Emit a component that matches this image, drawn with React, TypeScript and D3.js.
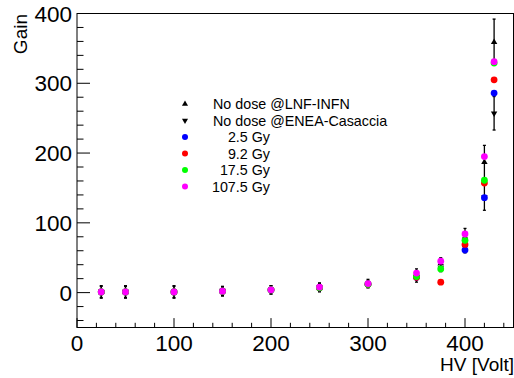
import React from "react";
import * as d3 from "d3";

const hvAll = [25, 50, 100, 150, 200, 250, 300, 350, 375, 400, 420, 430];
const lnfGain = [1, 1, 1, 2, 4, 8, 13, 26, 42, 80, 187, 359];
const lnfErr = [9, 9, 9, 7, 6, 6, 6, 8, 8, 12, 24, 33];
const eneaGain = [1, 1, 1, 2, 4, 7, 12, 22, 36, 65, 137, 257];
const eneaErr = [8, 8, 8, 6, 6, 6, 5, 7, 6, 8, 19, 24];

const hvBlue = [25, 50, 100, 150, 200, 250, 300, 350, 400, 420, 430];
const gainBlue = [1, 1, 1, 2, 4, 7, 12, 22, 61, 136, 286];
const gainRed = [1, 1, 1, 2, 4, 7, 12, 22, 15, 69, 157, 305];
const gainGreen = [1, 1, 1, 2, 4, 7, 12, 23, 34, 75, 161, 329];
const gainMagenta = [1, 1, 1, 2, 4, 8, 13, 28, 45, 84, 195, 331];

const legendLabels = ["No dose @LNF-INFN", "No dose @ENEA-Casaccia", "2.5 Gy", "9.2 Gy", "17.5 Gy", "107.5 Gy"];
const xTicks = [0, 100, 200, 300, 400];
const yTicks = [0, 100, 200, 300, 400];

const FONT = "'Liberation Sans', Arial, Helvetica, sans-serif";

export default function App() {
  const W = 514, H = 378;
  const left = 77, right = 513.5, top = 13.5, bottom = 327.5;
  const x = d3.scaleLinear().domain([0, 450]).range([left, right]);
  const y = d3.scaleLinear().domain([-50, 400]).range([bottom, top]);

  const triUp = d3.symbol().type(d3.symbolTriangle).size(18)() as string;
  const triLeg = d3.symbol().type(d3.symbolTriangle).size(16)() as string;

  const colored = [
    { hv: hvBlue, g: gainBlue, c: "#0000ff" },
    { hv: hvAll, g: gainRed, c: "#ff0000" },
    { hv: hvAll, g: gainGreen, c: "#00ff00" },
    { hv: hvAll, g: gainMagenta, c: "#ff00ff" },
  ];

  const xMinor = d3.range(0, 451, 20);
  const yMinor = d3.range(-40, 401, 20);

  const errBars = (gains: number[], errs: number[]) =>
    hvAll.map((h, i) => {
      const px = x(h);
      const y1 = y(gains[i] + errs[i]);
      const y2 = y(gains[i] - errs[i]);
      return (
        <g key={i} stroke="#000" strokeWidth={1.3}>
          <line x1={px} x2={px} y1={y1} y2={y2} />
          <line x1={px - 1.5} x2={px + 1.5} y1={y1} y2={y1} />
          <line x1={px - 1.5} x2={px + 1.5} y1={y2} y2={y2} />
        </g>
      );
    });

  const legendY = [104, 120.5, 137, 153.5, 170, 186.5];
  const legendColors = ["#0000ff", "#ff0000", "#00ff00", "#ff00ff"];

  return (
    <svg width={W} height={H} style={{ position: "fixed", left: 0, top: 0, background: "#fff" }} fontFamily={FONT}>
      <rect x={0} y={0} width={W} height={H} fill="#fff" />
      <rect x={left} y={top} width={right - left} height={bottom - top} fill="none" stroke="#000" strokeWidth={1} />
      {xMinor.map((v) => (
        <line key={"xm" + v} x1={x(v)} x2={x(v)} y1={bottom} y2={bottom - (v % 100 === 0 ? 9.4 : 4.7)} stroke="#000" />
      ))}
      {yMinor.map((v) => (
        <line key={"ym" + v} x1={left} x2={left + (v % 100 === 0 ? 13 : 6.5)} y1={y(v)} y2={y(v)} stroke="#000" />
      ))}
      {xTicks.map((v) => (
        <text key={"xl" + v} x={x(v)} y={351} fontSize={22.5} textAnchor="middle">{v}</text>
      ))}
      {yTicks.map((v) => (
        <text key={"yl" + v} x={72} y={y(v) + 8} fontSize={22.5} textAnchor="end">{v}</text>
      ))}
      <text x={514} y={371} fontSize={19} textAnchor="end">HV [Volt]</text>
      <text transform="translate(27,14) rotate(-90)" fontSize={19} textAnchor="end">Gain</text>

      {errBars(eneaGain, eneaErr)}
      {errBars(lnfGain, lnfErr)}
      {hvAll.map((h, i) => (
        <path key={"e" + i} d={triUp} transform={`translate(${x(h)},${y(eneaGain[i])}) rotate(180)`} fill="#000" />
      ))}
      {hvAll.map((h, i) => (
        <path key={"l" + i} d={triUp} transform={`translate(${x(h)},${y(lnfGain[i])})`} fill="#000" />
      ))}
      {colored.map((s, si) =>
        s.hv.map((h, i) => <circle key={si + "-" + i} cx={x(h)} cy={y(s.g[i])} r={3.4} fill={s.c} />)
      )}

      <path d={triLeg} transform={`translate(185,${legendY[0]})`} fill="#000" />
      <path d={triLeg} transform={`translate(185,${legendY[1]}) rotate(180)`} fill="#000" />
      {legendColors.map((c, i) => (
        <circle key={"lc" + i} cx={185} cy={legendY[i + 2]} r={3} fill={c} />
      ))}
      <text x={213} y={legendY[0] + 5} fontSize={14.3}>{legendLabels[0]}</text>
      <text x={213} y={legendY[1] + 5} fontSize={14.3}>{legendLabels[1]}</text>
      {legendLabels.slice(2).map((t, i) => (
        <text key={"lt" + i} x={270} y={legendY[i + 2] + 5} fontSize={14.3} textAnchor="end">{t}</text>
      ))}
    </svg>
  );
}
